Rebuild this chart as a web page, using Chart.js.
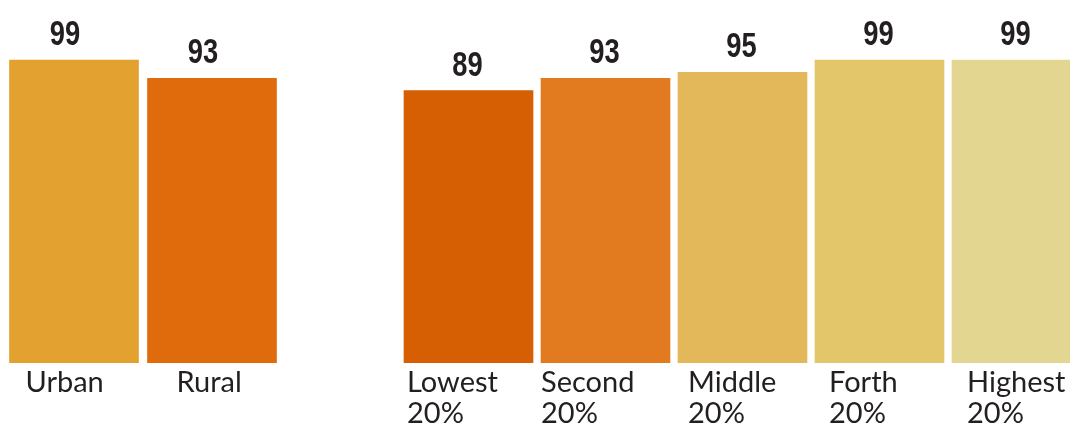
<!DOCTYPE html>
<html>
<head>
<meta charset="utf-8">
<script src="https://cdn.jsdelivr.net/npm/chart.js@4/dist/chart.umd.min.js"></script>
<style>
    html, body { margin: 0; padding: 0; background: #fff; overflow: hidden; width: 1070px; height: 436px; }
    canvas { position: absolute; top: 0; }
    #areaChart { left: 5px; }
    #wealthChart { left: 400px; }
</style>
</head>
<body>
<canvas id="areaChart" width="276" height="436"></canvas>
<canvas id="wealthChart" width="685" height="436"></canvas>
<script>
// residence
var areaLabels = [['Urban'], ['Rural']];
var areaValues = [99, 93];
var areaColors = ['#e3a22f', '#e06b0c'];
var areaIndent = [16, 29];

// wealth quintile
var wealthLabels = [['Lowest', '20%'], ['Second', '20%'], ['Middle', '20%'], ['Forth', '20%'], ['Highest', '20%']];
var wealthValues = [89, 93, 95, 99, 99];
var wealthColors = ['#d55f02', '#e27b20', '#e3b85b', '#e4c66a', '#e3d690'];
var wealthIndent = [3, 0, 10, 14, 15];

var textColor = '#231f20';

// draws the number over each bar and the category name under it
var barText = {
    id: 'barText',
    afterDatasetsDraw: function(chart, args, opts) {
        var ctx = chart.ctx;
        var meta = chart.getDatasetMeta(0);
        var ds = chart.data.datasets[0];
        var bottom = chart.chartArea.bottom;
        ctx.save();
        ctx.fillStyle = textColor;
        meta.data.forEach(function(bar, i) {
            // condensed bold numbers
            ctx.save();
            ctx.translate(bar.x + opts.numShift, bar.y - 15);
            ctx.scale(0.78, 1);
            ctx.font = 'bold 35px "Liberation Sans", Arial, sans-serif';
            ctx.textAlign = 'center';
            ctx.textBaseline = 'alphabetic';
            ctx.fillText(ds.data[i], 0, 0);
            ctx.restore();

            ctx.font = '29px Lato, "Open Sans", sans-serif';
            ctx.textAlign = 'left';
            var left = bar.x - bar.width / 2 + opts.indent[i];
            chart.data.labels[i].forEach(function(line, j) {
                ctx.fillText(line, left, bottom + 29 + j * 31);
            });
        });
        ctx.restore();
    }
};

function makeChart(id, labels, values, colors, indent, numShift) {
    var canvas = document.getElementById(id);
    return new Chart(canvas.getContext('2d'), {
        type: 'bar',
        data: {
            labels: labels,
            datasets: [{
                data: values,
                backgroundColor: colors,
                borderWidth: 0,
                barThickness: 129
            }]
        },
        options: {
            responsive: false,
            animation: false,
            layout: { padding: { top: 57, bottom: 73, left: 0, right: 0 } },
            scales: {
                x: { display: false, offset: true },
                y: { display: false, min: 0, max: 100 }
            },
            plugins: {
                legend: { display: false },
                tooltip: { enabled: false },
                barText: { indent: indent, numShift: numShift }
            }
        },
        plugins: [barText]
    });
}

makeChart('areaChart', areaLabels, areaValues, areaColors, areaIndent, -9);
makeChart('wealthChart', wealthLabels, wealthValues, wealthColors, wealthIndent, -1);
</script>
</body>
</html>
